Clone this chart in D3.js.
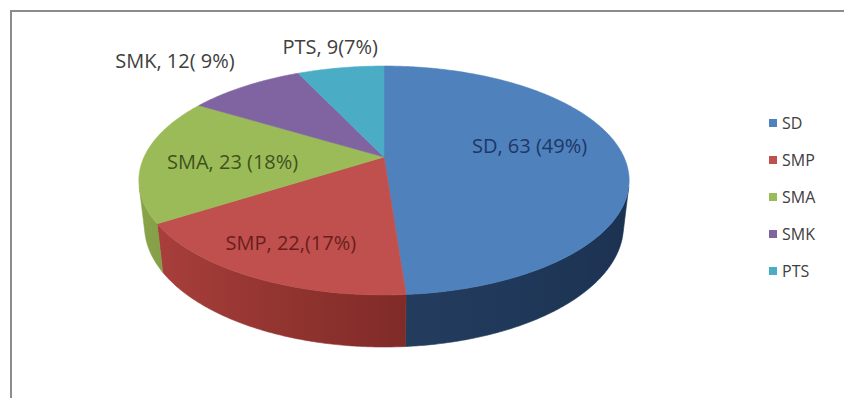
<!DOCTYPE html>
<html>
<head>
<meta charset="utf-8">
<script src="https://cdn.jsdelivr.net/npm/d3@7/dist/d3.min.js"></script>
<style>
  html, body { margin: 0; padding: 0; background: #ffffff; }
  svg { display: block; }
</style>
</head>
<body>
<svg id="chart" width="844" height="398"></svg>
<script>
// Categories and counts
const categories = ["SD", "SMP", "SMA", "SMK", "PTS"];
const values = [63, 22, 23, 12, 9];
const labelTexts = ["SD, 63 (49%)", "SMP, 22,(17%)", "SMA, 23 (18%)", "SMK, 12( 9%)", "PTS, 9(7%)"];

// Styling
const topColors  = ["#4F81BD", "#C0504D", "#9BBB59", "#8064A2", "#4BACC6"];
const wallDark   = ["#1B3150", "#561613", "#4C6024", "#3E2F52", "#215868"];
const wallLight  = ["#2D4A70", "#B0433F", "#8AA64B", "#6D568C", "#3F93AA"];
const labelColors = ["#1D3766", "#6A1E1C", "#3F521C", "#404040", "#404040"];
// label placement: radius on the disc (1 = rim), extra shifts in px
const labelPlace = [
  { r: 0.61, dx: 0,   dy: -9 },
  { r: 0.75, dx: 0,   dy: 0 },
  { r: 0.63, dx: 0,   dy: 4 },
  { r: 1.45, dx: -19, dy: 0 },
  { r: 1.30, dx: 0,   dy: 0 }
];

const svg = d3.select("#chart");
const defs = svg.append("defs");

// Perspective projection of a flat cylinder seen from above
const view = {
  cx: 384, cy: 157, focal: 1040, dist: 4.335,
  tilt: Math.asin(0.457), depth: 0.214
};
const sinT = Math.sin(view.tilt), cosT = Math.cos(view.tilt);
function proj(theta, r, y) {
  const X = r * Math.sin(theta);
  const Z = r * Math.cos(theta);
  const u = y * cosT + Z * sinT;
  const w = view.dist + Z * cosT - y * sinT;
  return [view.cx + view.focal * X / w, view.cy - view.focal * u / w];
}

const pie = d3.pie().sort(null).value(d => d).startAngle(0).endAngle(2 * Math.PI);
const arcs = pie(values);

const line = d3.line();
const step = Math.PI / 360;

function samples(a0, a1) {
  const n = Math.max(2, Math.ceil((a1 - a0) / step));
  return d3.range(n + 1).map(i => a0 + (a1 - a0) * i / n);
}

// Outer wall: only the part facing the viewer, shaded by a horizontal gradient
const visLimit = Math.acos(-1 / (view.dist * cosT));
const vis0 = visLimit, vis1 = 2 * Math.PI - visLimit;
const wallG = svg.append("g");
arcs.forEach((a, i) => {
  const s = Math.max(a.startAngle, vis0), e = Math.min(a.endAngle, vis1);
  if (e <= s) return;
  const shade = d3.interpolateRgb(wallDark[i], wallLight[i]);
  const angs = samples(s, e);
  const topPts = angs.map(t => proj(t, 1, 0));
  const botPts = angs.map(t => proj(t, 1, -view.depth)).reverse();
  const allPts = topPts.concat(botPts);
  const xExt = d3.extent(allPts, p => p[0]);
  const xScale = d3.scaleLinear().domain(xExt).range([0, 1]);

  const grad = defs.append("linearGradient")
    .attr("id", "wall-" + i)
    .attr("gradientUnits", "userSpaceOnUse")
    .attr("x1", xExt[0]).attr("y1", 0)
    .attr("x2", xExt[1]).attr("y2", 0);
  const stops = samples(s, e).filter((_, k) => k % 6 === 0).concat([e]);
  stops.sort((p, q) => proj(p, 1, 0)[0] - proj(q, 1, 0)[0]);
  stops.forEach(t => {
    grad.append("stop")
      .attr("offset", Math.min(1, Math.max(0, xScale(proj(t, 1, 0)[0]))))
      .attr("stop-color", shade((1 - Math.sin(t)) / 2));
  });

  wallG.append("path")
    .attr("d", line(allPts) + "Z")
    .attr("fill", "url(#wall-" + i + ")")
    .attr("stroke", "url(#wall-" + i + ")")
    .attr("stroke-width", 0.6)
    .attr("stroke-linejoin", "round");
});

// Top faces
const topG = svg.append("g");
arcs.forEach((a, i) => {
  const pts = [proj(0, 0, 0)].concat(samples(a.startAngle, a.endAngle).map(t => proj(t, 1, 0)));
  topG.append("path")
    .attr("d", line(pts) + "Z")
    .attr("fill", topColors[i])
    .attr("stroke", topColors[i])
    .attr("stroke-width", 0.6)
    .attr("stroke-linejoin", "round");
});

// Data labels
const labG = svg.append("g")
  .attr("font-family", "'Open Sans', 'Liberation Sans', sans-serif")
  .attr("font-size", 20);
arcs.forEach((a, i) => {
  const mid = (a.startAngle + a.endAngle) / 2;
  const p = proj(mid, labelPlace[i].r, 0);
  labG.append("text")
    .attr("x", p[0] + labelPlace[i].dx)
    .attr("y", p[1] + labelPlace[i].dy)
    .attr("text-anchor", "middle")
    .attr("dominant-baseline", "central")
    .attr("fill", labelColors[i])
    .text(labelTexts[i]);
});

// Legend
const legendY = d3.scalePoint().domain(categories).range([123, 271]);
const leg = svg.append("g")
  .attr("font-family", "'Open Sans', 'Liberation Sans', sans-serif")
  .attr("font-size", 16);
categories.forEach((c, i) => {
  const y = legendY(c);
  leg.append("rect").attr("x", 769).attr("y", y - 4).attr("width", 8).attr("height", 8)
    .attr("fill", topColors[i]);
  leg.append("text").attr("x", 782).attr("y", y).attr("dominant-baseline", "central")
    .attr("fill", "#404040").text(c);
});

// Chart area frame
svg.append("rect")
  .attr("x", 11).attr("y", 11).attr("width", 860).attr("height", 420)
  .attr("fill", "none").attr("stroke", "#8c8c8c").attr("stroke-width", 2);
</script>
</body>
</html>
